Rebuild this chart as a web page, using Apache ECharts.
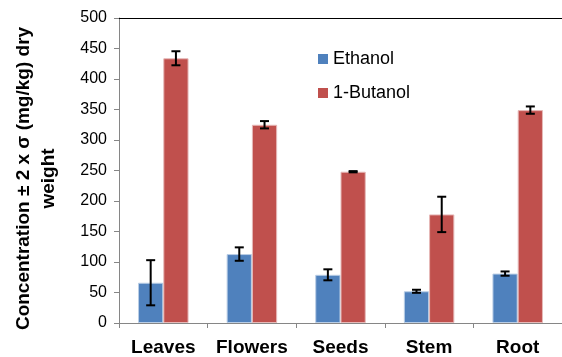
<!DOCTYPE html>
<html><head><meta charset="utf-8">
<script src="https://cdn.jsdelivr.net/npm/echarts@6/dist/echarts.min.js"></script>
<style>html,body{margin:0;padding:0;background:#fff}#c{width:562px;height:357px}</style>
</head><body><div id="c"></div>
<script>
var categories = ['Leaves', 'Flowers', 'Seeds', 'Stem', 'Root'];
var ethanol = [66, 113, 79, 52, 81];
var ethanolErr = [37, 11, 9, 2.5, 3.5];
var butanol = [434, 325, 248, 178, 349];
var butanolErr = [11.5, 6, 1, 29, 6];
var yTicks = [0, 50, 100, 150, 200, 250, 300, 350, 400, 450, 500];

var gapRatio = 0.43;
var font = '"Liberation Sans", Arial, sans-serif';

function errData(vals, errs) {
  return vals.map(function (v, i) { return [i, v - errs[i], v + errs[i]]; });
}
function errSeries(vals, errs, side) {
  return {
    type: 'custom', z: 10,
    data: errData(vals, errs),
    renderItem: function (params, api) {
      var cat = api.value(0);
      var lo = api.coord([cat, api.value(1)]);
      var hi = api.coord([cat, api.value(2)]);
      var w = api.size([1, 0])[0];
      var bw = w * (1 - gapRatio) / 2;
      var x = lo[0] + side * bw / 2;
      var cap = 4.5;
      var st = { stroke: '#000', lineWidth: 2 };
      return { type: 'group', children: [
        { type: 'line', shape: { x1: x, y1: lo[1], x2: x, y2: hi[1] }, style: st },
        { type: 'line', shape: { x1: x - cap, y1: lo[1], x2: x + cap, y2: lo[1] }, style: st },
        { type: 'line', shape: { x1: x - cap, y1: hi[1], x2: x + cap, y2: hi[1] }, style: st }
      ]};
    }
  };
}

var chart = echarts.init(document.getElementById('c'), null, { renderer: 'canvas' });
chart.setOption({
  animation: false,
  backgroundColor: '#fff',
  grid: { left: 119, top: 18, bottom: 34, right: -8, containLabel: false },
  legend: {
    orient: 'vertical', left: 313, top: 45, itemWidth: 10, itemHeight: 10, itemGap: 16,
    icon: 'rect',
    data: ['Ethanol', '1-Butanol'],
    itemStyle: { borderWidth: 0 },
    textStyle: { fontFamily: font, fontSize: 18, color: '#000' }
  },
  xAxis: [{
    type: 'category', data: categories,
    axisLine: { lineStyle: { color: '#868686', width: 1 } },
    axisTick: { show: true, length: 5, lineStyle: { color: '#868686' } },
    axisLabel: { interval: 0, fontFamily: font, fontSize: 19, fontWeight: 'bold', color: '#000', margin: 15 }
  }, {
    type: 'category', data: categories, position: 'top',
    axisLine: { show: true, lineStyle: { color: '#000', width: 1 } },
    axisTick: { show: false }, axisLabel: { show: false }
  }],
  yAxis: {
    type: 'value', min: 0, max: 500, interval: 50,
    name: 'Concentration ± 2 x σ (mg/kg) dry\nweight',
    nameLocation: 'middle', nameGap: 58, nameRotate: 90,
    nameTextStyle: { fontFamily: font, fontSize: 19, fontWeight: 'bold', color: '#000', lineHeight: 25, padding: [0, 16, 0, 0] },
    axisLine: { show: true, lineStyle: { color: '#868686' } },
    axisTick: { show: true, length: 5, lineStyle: { color: '#868686' } },
    splitLine: { show: false },
    axisLabel: { fontFamily: font, fontSize: 16, color: '#000', margin: 12,
      formatter: function (v) { return yTicks.indexOf(v) >= 0 ? String(v) : ''; } }
  },
  series: [
    { name: 'Ethanol', type: 'bar', data: ethanol, barGap: '0%', barCategoryGap: (gapRatio * 100) + '%',
      itemStyle: { color: '#4F81BD', borderColor: '#B9CDE5', borderWidth: 1 } },
    { name: '1-Butanol', type: 'bar', data: butanol,
      itemStyle: { color: '#C0504D', borderColor: '#E6B9B8', borderWidth: 1 } },
    errSeries(ethanol, ethanolErr, -1),
    errSeries(butanol, butanolErr, 1)
  ]
});
</script></body></html>
